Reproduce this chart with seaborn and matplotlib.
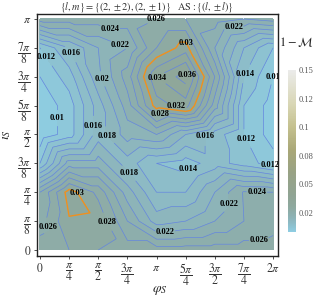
import matplotlib
matplotlib.use("Agg")
import matplotlib.pyplot as plt
import matplotlib as mpl
import matplotlib.tri as mtri
import seaborn as sns
import numpy as np

# grid: phi_S = 0 .. 2pi (step pi/4), iota_S = 0 .. pi (step pi/8)
phi_vals = np.arange(9) * np.pi / 4
iota_vals = np.arange(9) * np.pi / 8

# 1 - M, rows from iota = 0 (bottom) to iota = pi (top)
row_0 = [0.027, 0.028, 0.028, 0.027, 0.027, 0.027, 0.027, 0.027, 0.027]
row_1 = [0.025, 0.0298, 0.0296, 0.024, 0.019, 0.020, 0.022, 0.024, 0.025]
row_2 = [0.024, 0.031, 0.0274, 0.021, 0.016, 0.016, 0.020, 0.0242, 0.024]
row_3 = [0.012, 0.021, 0.021, 0.017, 0.014, 0.013, 0.015, 0.013, 0.011]
row_4 = [0.0085, 0.011, 0.017, 0.021, 0.022, 0.018, 0.015, 0.012, 0.009]
row_5 = [0.0085, 0.011, 0.017, 0.023, 0.031, 0.033, 0.023, 0.012, 0.009]
row_6 = [0.010, 0.013, 0.0195, 0.025, 0.034, 0.037, 0.026, 0.014, 0.010]
row_7 = [0.012, 0.016, 0.020, 0.022, 0.028, 0.031, 0.022, 0.016, 0.012]
row_8 = [0.025, 0.025, 0.025, 0.025, 0.026, 0.026, 0.025, 0.024, 0.025]

levels = np.round(np.arange(0.010, 0.0361, 0.002), 3)
highlight_level = 0.03

x_ticks = np.arange(9) * np.pi / 4
x_ticklabels = ['$0$', r'$\dfrac{\pi}{4}$', r'$\dfrac{\pi}{2}$', r'$\dfrac{3\pi}{4}$', r'$\pi$',
                r'$\dfrac{5\pi}{4}$', r'$\dfrac{3\pi}{2}$', r'$\dfrac{7\pi}{4}$', r'$2\pi$']
y_ticks = np.arange(9) * np.pi / 8
y_ticklabels = ['$0$', r'$\dfrac{\pi}{8}$', r'$\dfrac{\pi}{4}$', r'$\dfrac{3\pi}{8}$', r'$\dfrac{\pi}{2}$',
                r'$\dfrac{5\pi}{8}$', r'$\dfrac{3\pi}{4}$', r'$\dfrac{7\pi}{8}$', r'$\pi$']
cbar_ticks = [0.025, 0.05, 0.075, 0.1, 0.125, 0.15]
cbar_ticklabels = ['0.02', '0.05', '0.08', '0.1', '0.12', '0.15']

# approximate spots of the contour labels (phi/pi, iota/pi)
label_spots = [(0.60, 0.965), (1.03, 0.978), (1.665, 0.952), (0.687, 0.887),
               (0.086, 0.844), (0.309, 0.861), (0.558, 0.745), (1.013, 0.749),
               (1.245, 0.753), (1.734, 0.771), (1.974, 0.762),
               (0.103, 0.571), (0.42, 0.537), (0.575, 0.494), (1.39, 0.494), (1.82, 0.494),
               (1.26, 0.355), (1.974, 0.359), (0.798, 0.346), (0.558, 0.117),
               (0.05, 0.095), (1.86, 0.247), (1.597, 0.199), (1.073, 0.087), (1.88, 0.052),
               (1.167, 0.606), (1.039, 0.58)]
highlight_spots = [(1.30, 0.91), (0.33, 0.25)]

sns.set_style("ticks")
plt.rcParams['font.family'] = ['Liberation Serif', 'DejaVu Serif']
plt.rcParams['mathtext.fontset'] = 'stix'

Z = np.array([row_0, row_1, row_2, row_3, row_4, row_5, row_6, row_7, row_8])
PHI, IOTA = np.meshgrid(phi_vals, iota_vals)

# triangulate the grid, each cell split from its top-left to bottom-right corner
nr, nc = Z.shape
tris = []
for i in range(nr - 1):
    for j in range(nc - 1):
        bl, br = i * nc + j, i * nc + j + 1
        tl, tr = (i + 1) * nc + j, (i + 1) * nc + j + 1
        tris.append([tl, bl, br])
        tris.append([tl, br, tr])
tri = mtri.Triangulation(PHI.ravel(), IOTA.ravel(), np.array(tris))
zf = Z.ravel()

vmin, vmax = 0.0083, 0.15
cmap_nodes = [(0.0083, '#8ecde2'), (0.015, '#8dbdc9'), (0.022, '#8db1b3'), (0.03, '#8ea99f'),
              (0.04, '#90a494'), (0.06, '#98a285'), (0.08, '#a9a777'), (0.10, '#c4c08e'),
              (0.12, '#d8d6b4'), (0.15, '#ebebea')]
cmap = mpl.colors.LinearSegmentedColormap.from_list(
    'mma', [((v - vmin) / (vmax - vmin), c) for v, c in cmap_nodes])
norm = mpl.colors.Normalize(vmin=vmin, vmax=vmax)

fig = plt.figure(figsize=(3.16, 3.01), dpi=100)
ax = fig.add_axes([0.117, 0.1495, 0.763, 0.804])

fill_levels = np.concatenate([[Z.min() - 1e-4], levels, [Z.max() + 1e-4]])
ax.tricontourf(tri, zf, levels=fill_levels, cmap=cmap, norm=norm)
blue_levels = levels[levels != highlight_level]
cs = ax.tricontour(tri, zf, levels=blue_levels, colors='#6486e0', linewidths=0.5)
cs_hi = ax.tricontour(tri, zf, levels=[highlight_level], colors='#f0901e', linewidths=1.0)

spots = [(a * np.pi, b * np.pi) for a, b in label_spots]
texts = ax.clabel(cs, inline=True, inline_spacing=1, fontsize=6, fmt='%g', manual=spots)
hi_spots = [(a * np.pi, b * np.pi) for a, b in highlight_spots]
texts += ax.clabel(cs_hi, inline=False, fontsize=6, fmt='%g', manual=hi_spots)
for t in texts:
    t.set_rotation(0)
    t.set_fontweight('bold')
    t.set_color('black')

ax.set_xlim(-0.081, 2 * np.pi + 0.135)
ax.set_ylim(-0.082, np.pi + 0.068)
ax.set_xticks(x_ticks)
ax.set_xticklabels(x_ticklabels, fontsize=8.5)
ax.set_yticks(y_ticks)
ax.set_yticklabels(y_ticklabels, fontsize=8.5)
ax.tick_params(direction='out', length=2, width=0.6, pad=2, colors='#333333')
for s in ax.spines.values():
    s.set_linewidth(1.0)
    s.set_color('#222222')
ax.set_xlabel(r'$\varphi_S$', fontsize=10)
ax.set_ylabel(r'$\iota_S$', fontsize=10)
ax.xaxis.set_label_coords(0.51, -0.115)
ax.yaxis.set_label_coords(-0.1, 0.5)

fig.text(0.465, 0.978,
         r'$\{l, m\} = \{(2, \pm 2), (2, \pm 1)\}\quad \mathrm{AS}: \{(l, \pm l)\}$',
         ha='center', va='center', fontsize=7.4, color='#333333')

cax = fig.add_axes([0.911, 0.229, 0.025, 0.538])
sm = mpl.cm.ScalarMappable(norm=norm, cmap=cmap)
cb = fig.colorbar(sm, cax=cax)
cb.outline.set_visible(False)
cb.set_ticks(cbar_ticks)
cb.set_ticklabels(cbar_ticklabels)
cax.tick_params(length=0, labelsize=6, labelcolor='#555555', pad=2)
fig.text(0.937, 0.86, r'$1-\mathcal{M}$', ha='center', va='center', fontsize=9)

fig.savefig('out.png', dpi=100, facecolor='white')
